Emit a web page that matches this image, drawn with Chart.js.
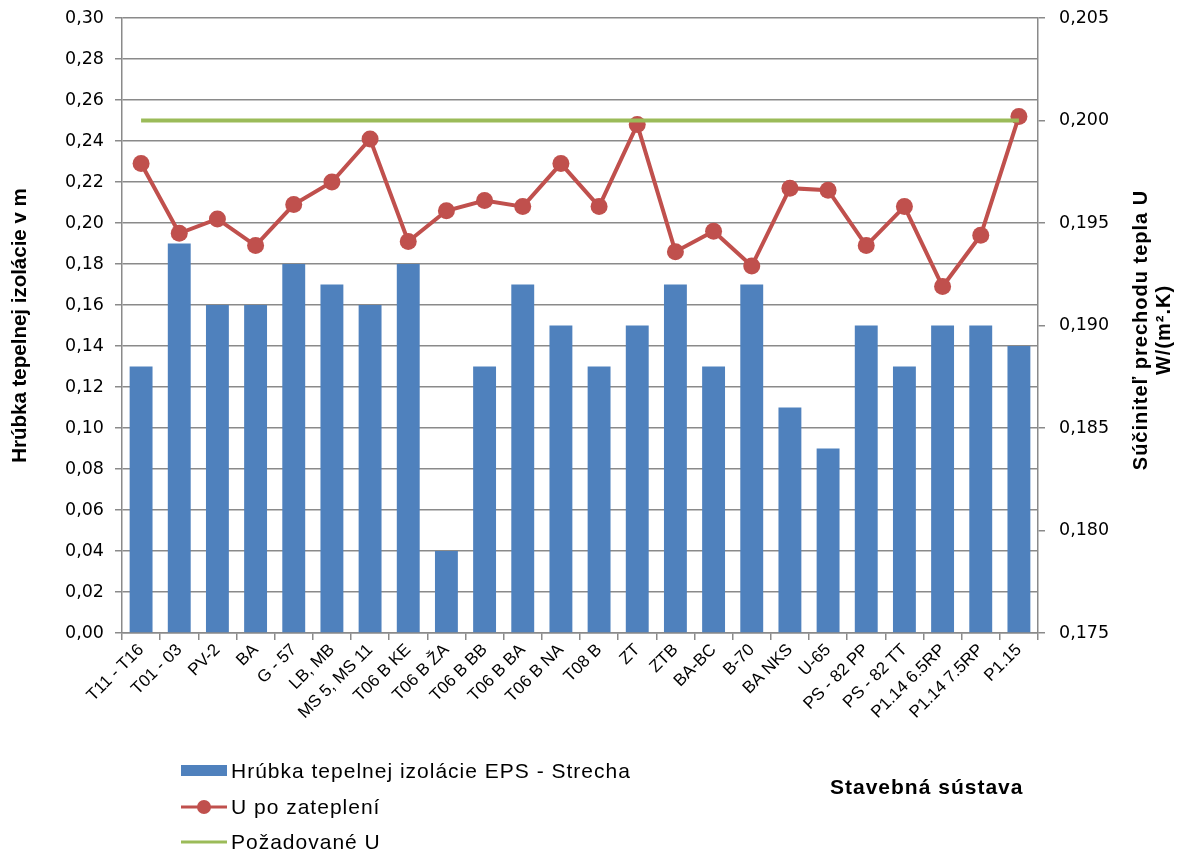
<!DOCTYPE html>
<html>
<head>
<meta charset="utf-8">
<script src="https://cdn.jsdelivr.net/npm/chart.js@4"></script>
<style>
  body { margin: 0; background: #fff; }
  canvas { display: block; }
</style>
</head>
<body>
<canvas id="uChart" width="1183" height="855"></canvas>
<script>
// stavebné sústavy
const categories = [
  "T11 - T16", "T01 - 03", "PV-2", "BA", "G - 57", "LB, MB", "MS 5, MS 11",
  "T06 B KE", "T06 B ŽA", "T06 B BB", "T06 B BA", "T06 B NA", "T08 B", "ZT",
  "ZTB", "BA-BC", "B-70", "BA NKS", "U-65", "PS - 82 PP", "PS - 82 TT",
  "P1.14 6.5RP", "P1.14 7.5RP", "P1.15"
];

// hrúbka izolácie EPS [m]
const thickness = [
  0.13, 0.19, 0.16, 0.16, 0.18, 0.17, 0.16, 0.18, 0.04, 0.13, 0.17, 0.15,
  0.13, 0.15, 0.17, 0.13, 0.17, 0.11, 0.09, 0.15, 0.13, 0.15, 0.15, 0.14
];

// U po zateplení [W/(m2.K)]
const uAfter = [
  0.1979, 0.1945, 0.1952, 0.1939, 0.1959, 0.1970, 0.1991, 0.1941, 0.1956, 0.1961,
  0.1958, 0.1979, 0.1958, 0.1998, 0.1936, 0.1946, 0.1929, 0.1967, 0.1966, 0.1939,
  0.1958, 0.1919, 0.1944, 0.2002
];

// požadované U
const uRequired = [
  0.200, 0.200, 0.200, 0.200, 0.200, 0.200, 0.200, 0.200, 0.200, 0.200, 0.200, 0.200,
  0.200, 0.200, 0.200, 0.200, 0.200, 0.200, 0.200, 0.200, 0.200, 0.200, 0.200, 0.200
];

const leftTicks = { min: 0, max: 0.30, step: 0.02 };
const rightTicks = { min: 0.175, max: 0.205, step: 0.005 };

const FONT = "'Liberation Sans', Arial, sans-serif";
const NUM_FONT = "'DejaVu Sans', Verdana, sans-serif";
const BLUE = "#4F81BD";
const RED = "#C0504D";
const GREEN = "#9BBB59";
const GRID = "#8a8a8a";

// legenda, názov osi x a pravý názov osi
const extras = {
  id: "extras",
  afterDraw(chart) {
    const ctx = chart.ctx;
    ctx.save();
    ctx.fillStyle = "#000";
    ctx.textBaseline = "middle";
    ctx.textAlign = "left";
    ctx.font = "21px " + FONT;
    ctx.letterSpacing = "1px";

    ctx.fillStyle = BLUE;
    ctx.fillRect(181, 765, 46, 11);
    ctx.fillStyle = "#000";
    ctx.fillText("Hrúbka tepelnej izolácie EPS - Strecha", 231, 772);

    ctx.strokeStyle = RED;
    ctx.lineWidth = 3;
    ctx.beginPath();
    ctx.moveTo(181, 807);
    ctx.lineTo(227, 807);
    ctx.stroke();
    ctx.fillStyle = RED;
    ctx.beginPath();
    ctx.arc(204, 807, 7, 0, Math.PI * 2);
    ctx.fill();
    ctx.fillStyle = "#000";
    ctx.fillText("U po zateplení", 231, 808);

    ctx.strokeStyle = GREEN;
    ctx.beginPath();
    ctx.moveTo(181, 842);
    ctx.lineTo(227, 842);
    ctx.stroke();
    ctx.fillText("Požadované U", 231, 843);

    ctx.font = "bold 21px " + FONT;
    ctx.letterSpacing = "1px";
    ctx.fillText("Stavebná sústava", 830, 788);

    ctx.font = "bold 20px " + FONT;
    ctx.letterSpacing = "1px";
    ctx.translate(1152, 330);
    ctx.rotate(-Math.PI / 2);
    ctx.textAlign = "center";
    ctx.fillText("Súčiniteľ prechodu tepla U", 0, -11);
    ctx.fillText("W/(m².K)", 0, 12);
    ctx.restore();
  }
};

// zvislé osi bez extra okraja nad a pod
function noVerticalPadding(scale) {
  scale.paddingTop = 0;
  scale.paddingBottom = 0;
}

new Chart(document.getElementById("uChart"), {
  data: {
    labels: categories,
    datasets: [
      {
        type: "line",
        label: "Požadované U",
        data: uRequired,
        yAxisID: "yRight",
        borderColor: GREEN,
        borderWidth: 4,
        pointRadius: 0,
        order: 1
      },
      {
        type: "line",
        label: "U po zateplení",
        data: uAfter,
        yAxisID: "yRight",
        borderColor: RED,
        backgroundColor: RED,
        borderWidth: 4,
        pointRadius: 8.5,
        pointBackgroundColor: RED,
        pointBorderWidth: 0,
        order: 2
      },
      {
        type: "bar",
        label: "Hrúbka tepelnej izolácie EPS - Strecha",
        data: thickness,
        yAxisID: "yLeft",
        backgroundColor: BLUE,
        barPercentage: 0.6,
        categoryPercentage: 1,
        order: 3
      }
    ]
  },
  options: {
    responsive: false,
    animation: false,
    layout: { padding: { top: 18 } },
    plugins: {
      legend: { display: false },
      tooltip: { enabled: false }
    },
    scales: {
      x: {
        offset: true,
        grid: { offset: true, drawOnChartArea: false, color: GRID, lineWidth: 1.5, tickLength: 7 },
        border: { color: GRID, width: 1.5 },
        ticks: {
          color: "#000",
          font: { family: FONT, size: 17 },
          minRotation: 45,
          maxRotation: 45,
          autoSkip: false,
          padding: 0
        },
        afterFit(scale) { scale.height = 222; }
      },
      yLeft: {
        position: "left",
        min: leftTicks.min,
        max: leftTicks.max,
        grid: { color: GRID, lineWidth: 1.5, tickLength: 7 },
        border: { color: GRID, width: 1.5 },
        ticks: {
          stepSize: leftTicks.step,
          color: "#000",
          font: { family: NUM_FONT, size: 17.5 },
          padding: 11,
          callback: v => v.toFixed(2).replace(".", ",")
        },
        title: {
          display: true,
          text: "Hrúbka tepelnej izolácie v m",
          color: "#000",
          font: { family: FONT, size: 20.5, weight: "bold" },
          padding: { top: 8, bottom: 0 }
        },
        afterFit(scale) {
          scale.width = 122;
          noVerticalPadding(scale);
        }
      },
      yRight: {
        position: "right",
        min: rightTicks.min,
        max: rightTicks.max,
        grid: { drawOnChartArea: false, color: GRID, lineWidth: 1.5, tickLength: 7 },
        border: { color: GRID, width: 1.5 },
        ticks: {
          stepSize: rightTicks.step,
          color: "#000",
          font: { family: NUM_FONT, size: 17.5 },
          padding: 14,
          callback: v => v.toFixed(3).replace(".", ",")
        },
        afterFit(scale) {
          scale.width = 145;
          noVerticalPadding(scale);
        }
      }
    }
  },
  plugins: [extras]
});
</script>
</body>
</html>
